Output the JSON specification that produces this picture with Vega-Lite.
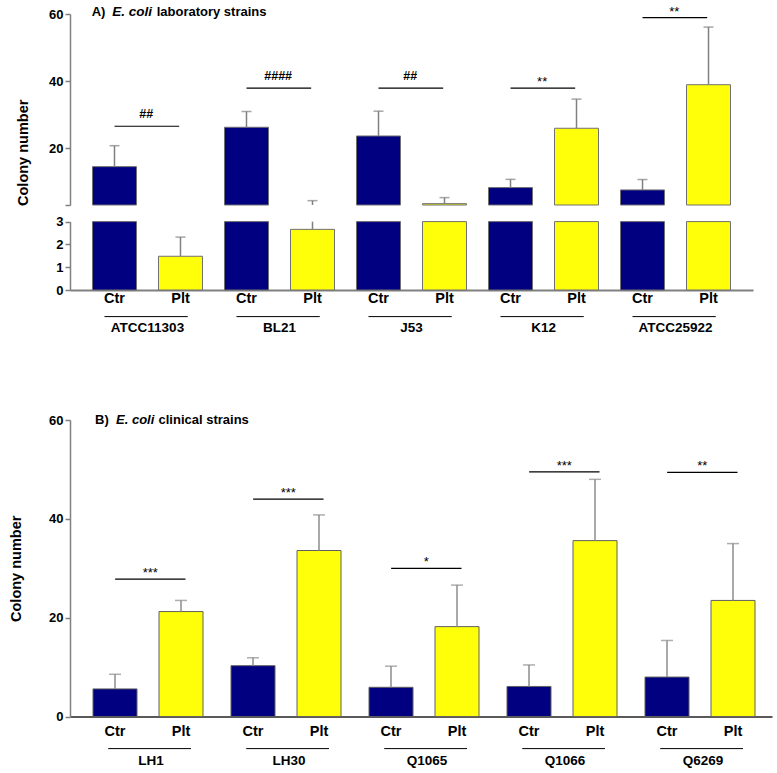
{
  "$schema": "https://vega.github.io/schema/vega-lite/v6.json",
  "padding": {"left": 8, "top": 4, "right": 5, "bottom": 5},
  "background": "white",
  "spacing": 130,
  "bounds": "flush",
  "config": {
    "font": "Liberation Sans",
    "view": {"stroke": null},
    "axis": {"grid": false, "labelFont": "Liberation Sans", "titleFont": "Liberation Sans", "labelFontWeight": "bold", "titleFontWeight": "bold", "labelColor": "black", "titleColor": "black"},
    "text": {"font": "Liberation Sans"}
  },
  "datasets": {
    "bars": [
      {"panel": "A", "strain": "ATCC11303", "group": "Ctr", "mean": 14.45, "upper": 20.7},
      {"panel": "A", "strain": "ATCC11303", "group": "Plt", "mean": 1.48, "upper": 2.32},
      {"panel": "A", "strain": "BL21", "group": "Ctr", "mean": 26.2, "upper": 30.9},
      {"panel": "A", "strain": "BL21", "group": "Plt", "mean": 2.66, "upper": 4.3},
      {"panel": "A", "strain": "J53", "group": "Ctr", "mean": 23.6, "upper": 31.0},
      {"panel": "A", "strain": "J53", "group": "Plt", "mean": 3.4, "upper": 5.2},
      {"panel": "A", "strain": "K12", "group": "Ctr", "mean": 8.2, "upper": 10.65},
      {"panel": "A", "strain": "K12", "group": "Plt", "mean": 25.9, "upper": 34.6},
      {"panel": "A", "strain": "ATCC25922", "group": "Ctr", "mean": 7.5, "upper": 10.6},
      {"panel": "A", "strain": "ATCC25922", "group": "Plt", "mean": 38.9, "upper": 56.1},
      {"panel": "B", "strain": "LH1", "group": "Ctr", "mean": 5.6, "upper": 8.56},
      {"panel": "B", "strain": "LH1", "group": "Plt", "mean": 21.25, "upper": 23.5},
      {"panel": "B", "strain": "LH30", "group": "Ctr", "mean": 10.3, "upper": 11.9},
      {"panel": "B", "strain": "LH30", "group": "Plt", "mean": 33.6, "upper": 40.8},
      {"panel": "B", "strain": "Q1065", "group": "Ctr", "mean": 5.93, "upper": 10.2},
      {"panel": "B", "strain": "Q1065", "group": "Plt", "mean": 18.2, "upper": 26.6},
      {"panel": "B", "strain": "Q1066", "group": "Ctr", "mean": 6.1, "upper": 10.45},
      {"panel": "B", "strain": "Q1066", "group": "Plt", "mean": 35.6, "upper": 48.0},
      {"panel": "B", "strain": "Q6269", "group": "Ctr", "mean": 8.0, "upper": 15.4},
      {"panel": "B", "strain": "Q6269", "group": "Plt", "mean": 23.5, "upper": 35.0}
    ],
    "sig": [
      {"panel": "A", "strain": "ATCC11303", "label": "##", "bracket": 26.5},
      {"panel": "A", "strain": "BL21", "label": "####", "bracket": 37.9},
      {"panel": "A", "strain": "J53", "label": "##", "bracket": 37.9},
      {"panel": "A", "strain": "K12", "label": "**", "bracket": 37.9},
      {"panel": "A", "strain": "ATCC25922", "label": "**", "bracket": 58.9},
      {"panel": "B", "strain": "LH1", "label": "***", "bracket": 27.8},
      {"panel": "B", "strain": "LH30", "label": "***", "bracket": 44.0},
      {"panel": "B", "strain": "Q1065", "label": "*", "bracket": 30.0},
      {"panel": "B", "strain": "Q1066", "label": "***", "bracket": 49.5},
      {"panel": "B", "strain": "Q6269", "label": "**", "bracket": 49.4}
    ],
    "titles": [
      {"panel": "A", "part": "a", "text": "A)"},
      {"panel": "A", "part": "b", "text": "E. coli"},
      {"panel": "A", "part": "c", "text": "laboratory strains"},
      {"panel": "B", "part": "a", "text": "B)"},
      {"panel": "B", "part": "b", "text": "E. coli"},
      {"panel": "B", "part": "c", "text": "clinical strains"}
    ]
  },
  "vconcat": [
    {
      "width": 683,
      "height": 276,
      "resolve": {"scale": {"y": "independent"}, "axis": {"y": "independent"}},
      "layer": [
        {
          "layer": [
            {
              "data": {"name": "bars"},
              "transform": [{"filter": "datum.panel == 'A' && datum.mean > 3"}],
              "mark": {"type": "bar", "stroke": "#707070", "strokeWidth": 1},
              "encoding": {
                "x": {"field": "strain", "type": "nominal", "title": null, "scale": {"domain": ["ATCC11303", "BL21", "J53", "K12", "ATCC25922"], "paddingInner": 0, "paddingOuter": 0.087, "align": 0.5}},
                "xOffset": {"field": "group", "type": "nominal", "scale": {"domain": ["Ctr", "Plt"], "paddingInner": 0.3333, "paddingOuter": 0.1667}},
                "y": {"field": "mean", "type": "quantitative", "scale": {"domain": [3, 60], "range": [191, 0], "nice": false, "zero": false, "clamp": true},
                  "axis": {"orient": "left", "values": [3, 20, 40, 60], "labelExpr": "datum.value == 3 ? '' : datum.label", "title": "Colony number", "titleY": 138.3, "titleFontSize": 14.5, "titlePadding": 18, "labelFontSize": 13, "labelPadding": 2, "tickSize": 5, "tickColor": "#808080", "tickWidth": 1.5, "domainColor": "#808080", "domainWidth": 1.5}},
                "y2": {"datum": 3},
                "color": {"field": "group", "type": "nominal", "scale": {"domain": ["Ctr", "Plt"], "range": ["#000080", "#ffff0a"]}, "legend": null}
              }
            },
            {
              "data": {"name": "bars"},
              "transform": [{"filter": "datum.panel == 'A' && datum.upper > 3"}],
              "mark": {"type": "rule", "color": "#808080", "strokeWidth": 1.5},
              "encoding": {
                "x": {"field": "strain", "type": "nominal", "scale": {"domain": ["ATCC11303", "BL21", "J53", "K12", "ATCC25922"], "paddingInner": 0, "paddingOuter": 0.087, "align": 0.5}},
                "xOffset": {"field": "group", "type": "nominal", "scale": {"domain": ["Ctr", "Plt"], "paddingInner": 0.3333, "paddingOuter": 0.1667}},
                "y": {"field": "mean", "type": "quantitative", "scale": {"domain": [3, 60], "range": [191, 0], "nice": false, "zero": false, "clamp": true}},
                "y2": {"field": "upper"}
              }
            },
            {
              "data": {"name": "bars"},
              "transform": [{"filter": "datum.panel == 'A' && datum.upper > 3"}],
              "mark": {"type": "tick", "orient": "horizontal", "size": 10, "thickness": 1.5, "color": "#808080"},
              "encoding": {
                "x": {"field": "strain", "type": "nominal", "scale": {"domain": ["ATCC11303", "BL21", "J53", "K12", "ATCC25922"], "paddingInner": 0, "paddingOuter": 0.087, "align": 0.5}},
                "xOffset": {"field": "group", "type": "nominal", "scale": {"domain": ["Ctr", "Plt"], "paddingInner": 0.3333, "paddingOuter": 0.1667}},
                "y": {"field": "upper", "type": "quantitative", "scale": {"domain": [3, 60], "range": [191, 0], "nice": false, "zero": false, "clamp": true}}
              }
            },
            {
              "data": {"name": "sig"},
              "transform": [{"filter": "datum.panel == 'A'"}],
              "mark": {"type": "rule", "color": "black", "strokeWidth": 1.2},
              "encoding": {
                "x": {"field": "strain", "type": "nominal", "bandPosition": 0.25, "scale": {"domain": ["ATCC11303", "BL21", "J53", "K12", "ATCC25922"], "paddingInner": 0, "paddingOuter": 0.087, "align": 0.5}},
                "x2": {"field": "strain", "bandPosition": 0.74},
                "y": {"field": "bracket", "type": "quantitative", "scale": {"domain": [3, 60], "range": [191, 0], "nice": false, "zero": false, "clamp": true}}
              }
            },
            {
              "data": {"name": "sig"},
              "transform": [{"filter": "datum.panel == 'A' && indexof(datum.label, '#') >= 0"}],
              "mark": {"type": "text", "baseline": "alphabetic", "dy": -8, "fontSize": 12.5, "fontWeight": "bold", "color": "black"},
              "encoding": {
                "x": {"field": "strain", "type": "nominal", "bandPosition": 0.49, "scale": {"domain": ["ATCC11303", "BL21", "J53", "K12", "ATCC25922"], "paddingInner": 0, "paddingOuter": 0.087, "align": 0.5}},
                "y": {"field": "bracket", "type": "quantitative", "scale": {"domain": [3, 60], "range": [191, 0], "nice": false, "zero": false, "clamp": true}},
                "text": {"field": "label"}
              }
            },
            {
              "data": {"name": "sig"},
              "transform": [{"filter": "datum.panel == 'A' && indexof(datum.label, '*') >= 0"}],
              "mark": {"type": "text", "baseline": "alphabetic", "dy": -2, "fontSize": 13, "color": "black"},
              "encoding": {
                "x": {"field": "strain", "type": "nominal", "bandPosition": 0.49, "scale": {"domain": ["ATCC11303", "BL21", "J53", "K12", "ATCC25922"], "paddingInner": 0, "paddingOuter": 0.087, "align": 0.5}},
                "y": {"field": "bracket", "type": "quantitative", "scale": {"domain": [3, 60], "range": [191, 0], "nice": false, "zero": false, "clamp": true}},
                "text": {"field": "label"}
              }
            },
            {
              "data": {"name": "titles"},
              "transform": [{"filter": "datum.panel == 'A' && datum.part == 'a'"}],
              "mark": {"type": "text", "align": "left", "baseline": "middle", "dx": 10.2, "dy": -2.4, "fontSize": 13, "fontWeight": "bold", "color": "black"},
              "encoding": {
                "x": {"datum": "ATCC11303", "type": "nominal", "bandPosition": 0, "scale": {"domain": ["ATCC11303", "BL21", "J53", "K12", "ATCC25922"], "paddingInner": 0, "paddingOuter": 0.087, "align": 0.5}},
                "y": {"datum": 60, "type": "quantitative", "scale": {"domain": [3, 60], "range": [191, 0], "nice": false, "zero": false, "clamp": true}},
                "text": {"field": "text"}
              }
            },
            {
              "data": {"name": "titles"},
              "transform": [{"filter": "datum.panel == 'A' && datum.part == 'b'"}],
              "mark": {"type": "text", "align": "left", "baseline": "middle", "dx": 30.8, "dy": -2.4, "fontSize": 13.5, "fontWeight": "bold", "fontStyle": "italic", "color": "black"},
              "encoding": {
                "x": {"datum": "ATCC11303", "type": "nominal", "bandPosition": 0, "scale": {"domain": ["ATCC11303", "BL21", "J53", "K12", "ATCC25922"], "paddingInner": 0, "paddingOuter": 0.087, "align": 0.5}},
                "y": {"datum": 60, "type": "quantitative", "scale": {"domain": [3, 60], "range": [191, 0], "nice": false, "zero": false, "clamp": true}},
                "text": {"field": "text"}
              }
            },
            {
              "data": {"name": "titles"},
              "transform": [{"filter": "datum.panel == 'A' && datum.part == 'c'"}],
              "mark": {"type": "text", "align": "left", "baseline": "middle", "dx": 75.2, "dy": -2.4, "fontSize": 13, "fontWeight": "bold", "color": "black"},
              "encoding": {
                "x": {"datum": "ATCC11303", "type": "nominal", "bandPosition": 0, "scale": {"domain": ["ATCC11303", "BL21", "J53", "K12", "ATCC25922"], "paddingInner": 0, "paddingOuter": 0.087, "align": 0.5}},
                "y": {"datum": 60, "type": "quantitative", "scale": {"domain": [3, 60], "range": [191, 0], "nice": false, "zero": false, "clamp": true}},
                "text": {"field": "text"}
              }
            }
          ]
        },
        {
          "layer": [
            {
              "data": {"name": "bars"},
              "transform": [{"filter": "datum.panel == 'A'"}],
              "mark": {"type": "bar", "stroke": "#707070", "strokeWidth": 1},
              "encoding": {
                "x": {"field": "strain", "type": "nominal", "title": null, "scale": {"domain": ["ATCC11303", "BL21", "J53", "K12", "ATCC25922"], "paddingInner": 0, "paddingOuter": 0.087, "align": 0.5},
                  "axis": {"orient": "bottom", "title": null, "ticks": false, "labelAngle": 0, "labelAlign": "center", "labelFontSize": 13.5, "labelPadding": 37.6, "labelBaseline": "middle", "domainColor": "#808080", "domainWidth": 2}},
                "xOffset": {"field": "group", "type": "nominal", "scale": {"domain": ["Ctr", "Plt"], "paddingInner": 0.3333, "paddingOuter": 0.1667}},
                "y": {"field": "mean", "type": "quantitative", "scale": {"domain": [0, 3], "range": [276, 207.6], "nice": false, "clamp": true},
                  "axis": {"orient": "left", "values": [0, 1, 2, 3], "format": "d", "title": null, "labelFontSize": 13, "labelPadding": 2, "tickSize": 5, "tickColor": "#808080", "tickWidth": 1.5, "domainColor": "#808080", "domainWidth": 1.5}},
                "y2": {"datum": 0},
                "color": {"field": "group", "type": "nominal", "scale": {"domain": ["Ctr", "Plt"], "range": ["#000080", "#ffff0a"]}, "legend": null}
              }
            },
            {
              "data": {"name": "bars"},
              "transform": [{"filter": "datum.panel == 'A'"}],
              "mark": {"type": "rule", "color": "#808080", "strokeWidth": 1.5},
              "encoding": {
                "x": {"field": "strain", "type": "nominal", "scale": {"domain": ["ATCC11303", "BL21", "J53", "K12", "ATCC25922"], "paddingInner": 0, "paddingOuter": 0.087, "align": 0.5}},
                "xOffset": {"field": "group", "type": "nominal", "scale": {"domain": ["Ctr", "Plt"], "paddingInner": 0.3333, "paddingOuter": 0.1667}},
                "y": {"field": "mean", "type": "quantitative", "scale": {"domain": [0, 3], "range": [276, 207.6], "nice": false, "clamp": true}},
                "y2": {"field": "upper"}
              }
            },
            {
              "data": {"name": "bars"},
              "transform": [{"filter": "datum.panel == 'A' && datum.upper <= 3"}],
              "mark": {"type": "tick", "orient": "horizontal", "size": 10, "thickness": 1.5, "color": "#808080"},
              "encoding": {
                "x": {"field": "strain", "type": "nominal", "scale": {"domain": ["ATCC11303", "BL21", "J53", "K12", "ATCC25922"], "paddingInner": 0, "paddingOuter": 0.087, "align": 0.5}},
                "xOffset": {"field": "group", "type": "nominal", "scale": {"domain": ["Ctr", "Plt"], "paddingInner": 0.3333, "paddingOuter": 0.1667}},
                "y": {"field": "upper", "type": "quantitative", "scale": {"domain": [0, 3], "range": [276, 207.6], "nice": false, "clamp": true}}
              }
            },
            {
              "data": {"name": "bars"},
              "transform": [{"filter": "datum.panel == 'A'"}],
              "mark": {"type": "text", "baseline": "middle", "dy": 9.3, "fontSize": 14.5, "fontWeight": "bold", "color": "black"},
              "encoding": {
                "x": {"field": "strain", "type": "nominal", "scale": {"domain": ["ATCC11303", "BL21", "J53", "K12", "ATCC25922"], "paddingInner": 0, "paddingOuter": 0.087, "align": 0.5}},
                "xOffset": {"field": "group", "type": "nominal", "scale": {"domain": ["Ctr", "Plt"], "paddingInner": 0.3333, "paddingOuter": 0.1667}},
                "y": {"datum": 0, "type": "quantitative", "scale": {"domain": [0, 3], "range": [276, 207.6], "nice": false, "clamp": true}},
                "text": {"field": "group"}
              }
            },
            {
              "data": {"name": "bars"},
              "transform": [{"filter": "datum.panel == 'A' && datum.group == 'Ctr'"}],
              "mark": {"type": "rule", "color": "black", "strokeWidth": 1, "yOffset": 26.6},
              "encoding": {
                "x": {"field": "strain", "type": "nominal", "bandPosition": 0.174, "scale": {"domain": ["ATCC11303", "BL21", "J53", "K12", "ATCC25922"], "paddingInner": 0, "paddingOuter": 0.087, "align": 0.5}},
                "x2": {"field": "strain", "bandPosition": 0.805},
                "y": {"datum": 0, "type": "quantitative", "scale": {"domain": [0, 3], "range": [276, 207.6], "nice": false, "clamp": true}}
              }
            }
          ]
        }
      ]
    },
    {
      "width": 702,
      "height": 296.6,
      "layer": [
        {
          "data": {"name": "bars"},
          "transform": [{"filter": "datum.panel == 'B'"}],
          "mark": {"type": "bar", "stroke": "#606060", "strokeWidth": 1},
          "encoding": {
            "x": {"field": "strain", "type": "nominal", "title": null, "scale": {"domain": ["LH1", "LH30", "Q1065", "Q1066", "Q6269"], "paddingInner": 0, "paddingOuter": 0.0435, "align": 1},
              "axis": {"orient": "bottom", "title": null, "ticks": false, "labelAngle": 0, "labelAlign": "center", "labelFontSize": 13.5, "labelPadding": 43.4, "labelBaseline": "middle", "domainColor": "#222222", "domainWidth": 1.5}},
            "xOffset": {"field": "group", "type": "nominal", "scale": {"domain": ["Ctr", "Plt"], "paddingInner": 0.3333, "paddingOuter": 0.1667}},
            "y": {"field": "mean", "type": "quantitative", "scale": {"domain": [0, 60], "nice": false},
              "axis": {"orient": "left", "values": [0, 20, 40, 60], "title": "Colony number", "titleFontSize": 14.5, "titlePadding": 25, "labelFontSize": 13, "labelPadding": 2, "tickSize": 5, "tickColor": "#808080", "tickWidth": 1.5, "domainColor": "#808080", "domainWidth": 1.5}},
            "y2": {"datum": 0},
            "color": {"field": "group", "type": "nominal", "scale": {"domain": ["Ctr", "Plt"], "range": ["#000080", "#ffff0a"]}, "legend": null}
          }
        },
        {
          "data": {"name": "bars"},
          "transform": [{"filter": "datum.panel == 'B'"}],
          "mark": {"type": "rule", "color": "#8c8c8c", "strokeWidth": 1.5},
          "encoding": {
            "x": {"field": "strain", "type": "nominal", "scale": {"domain": ["LH1", "LH30", "Q1065", "Q1066", "Q6269"], "paddingInner": 0, "paddingOuter": 0.0435, "align": 1}},
            "xOffset": {"field": "group", "type": "nominal", "scale": {"domain": ["Ctr", "Plt"], "paddingInner": 0.3333, "paddingOuter": 0.1667}},
            "y": {"field": "mean", "type": "quantitative", "scale": {"domain": [0, 60], "nice": false}},
            "y2": {"field": "upper"}
          }
        },
        {
          "data": {"name": "bars"},
          "transform": [{"filter": "datum.panel == 'B'"}],
          "mark": {"type": "tick", "orient": "horizontal", "size": 12, "thickness": 1.5, "color": "#8c8c8c"},
          "encoding": {
            "x": {"field": "strain", "type": "nominal", "scale": {"domain": ["LH1", "LH30", "Q1065", "Q1066", "Q6269"], "paddingInner": 0, "paddingOuter": 0.0435, "align": 1}},
            "xOffset": {"field": "group", "type": "nominal", "scale": {"domain": ["Ctr", "Plt"], "paddingInner": 0.3333, "paddingOuter": 0.1667}},
            "y": {"field": "upper", "type": "quantitative", "scale": {"domain": [0, 60], "nice": false}}
          }
        },
        {
          "data": {"name": "sig"},
          "transform": [{"filter": "datum.panel == 'B'"}],
          "mark": {"type": "rule", "color": "black", "strokeWidth": 1.2},
          "encoding": {
            "x": {"field": "strain", "type": "nominal", "bandPosition": 0.24, "scale": {"domain": ["LH1", "LH30", "Q1065", "Q1066", "Q6269"], "paddingInner": 0, "paddingOuter": 0.0435, "align": 1}},
            "x2": {"field": "strain", "bandPosition": 0.75},
            "y": {"field": "bracket", "type": "quantitative", "scale": {"domain": [0, 60], "nice": false}}
          }
        },
        {
          "data": {"name": "sig"},
          "transform": [{"filter": "datum.panel == 'B'"}],
          "mark": {"type": "text", "baseline": "alphabetic", "dy": -2, "fontSize": 13, "color": "black"},
          "encoding": {
            "x": {"field": "strain", "type": "nominal", "bandPosition": 0.495, "scale": {"domain": ["LH1", "LH30", "Q1065", "Q1066", "Q6269"], "paddingInner": 0, "paddingOuter": 0.0435, "align": 1}},
            "y": {"field": "bracket", "type": "quantitative", "scale": {"domain": [0, 60], "nice": false}},
            "text": {"field": "label"}
          }
        },
        {
          "data": {"name": "titles"},
          "transform": [{"filter": "datum.panel == 'B' && datum.part == 'a'"}],
          "mark": {"type": "text", "align": "left", "baseline": "middle", "dx": 13, "fontSize": 13, "fontWeight": "bold", "color": "black"},
          "encoding": {
            "x": {"datum": "LH1", "type": "nominal", "bandPosition": 0, "scale": {"domain": ["LH1", "LH30", "Q1065", "Q1066", "Q6269"], "paddingInner": 0, "paddingOuter": 0.0435, "align": 1}},
            "y": {"datum": 60, "type": "quantitative", "scale": {"domain": [0, 60], "nice": false}},
            "text": {"field": "text"}
          }
        },
        {
          "data": {"name": "titles"},
          "transform": [{"filter": "datum.panel == 'B' && datum.part == 'b'"}],
          "mark": {"type": "text", "align": "left", "baseline": "middle", "dx": 34, "fontSize": 13, "fontWeight": "bold", "fontStyle": "italic", "color": "black"},
          "encoding": {
            "x": {"datum": "LH1", "type": "nominal", "bandPosition": 0, "scale": {"domain": ["LH1", "LH30", "Q1065", "Q1066", "Q6269"], "paddingInner": 0, "paddingOuter": 0.0435, "align": 1}},
            "y": {"datum": 60, "type": "quantitative", "scale": {"domain": [0, 60], "nice": false}},
            "text": {"field": "text"}
          }
        },
        {
          "data": {"name": "titles"},
          "transform": [{"filter": "datum.panel == 'B' && datum.part == 'c'"}],
          "mark": {"type": "text", "align": "left", "baseline": "middle", "dx": 76.5, "fontSize": 13, "fontWeight": "bold", "color": "black"},
          "encoding": {
            "x": {"datum": "LH1", "type": "nominal", "bandPosition": 0, "scale": {"domain": ["LH1", "LH30", "Q1065", "Q1066", "Q6269"], "paddingInner": 0, "paddingOuter": 0.0435, "align": 1}},
            "y": {"datum": 60, "type": "quantitative", "scale": {"domain": [0, 60], "nice": false}},
            "text": {"field": "text"}
          }
        },
        {
          "data": {"name": "bars"},
          "transform": [{"filter": "datum.panel == 'B'"}],
          "mark": {"type": "text", "baseline": "middle", "dy": 15.7, "fontSize": 14.5, "fontWeight": "bold", "color": "black"},
          "encoding": {
            "x": {"field": "strain", "type": "nominal", "scale": {"domain": ["LH1", "LH30", "Q1065", "Q1066", "Q6269"], "paddingInner": 0, "paddingOuter": 0.0435, "align": 1}},
            "xOffset": {"field": "group", "type": "nominal", "scale": {"domain": ["Ctr", "Plt"], "paddingInner": 0.3333, "paddingOuter": 0.1667}},
            "y": {"datum": 0, "type": "quantitative", "scale": {"domain": [0, 60], "nice": false}},
            "text": {"field": "group"}
          }
        },
        {
          "data": {"name": "bars"},
          "transform": [{"filter": "datum.panel == 'B' && datum.group == 'Ctr'"}],
          "mark": {"type": "rule", "color": "black", "strokeWidth": 1, "yOffset": 32},
          "encoding": {
            "x": {"field": "strain", "type": "nominal", "bandPosition": 0.19, "scale": {"domain": ["LH1", "LH30", "Q1065", "Q1066", "Q6269"], "paddingInner": 0, "paddingOuter": 0.0435, "align": 1}},
            "x2": {"field": "strain", "bandPosition": 0.79},
            "y": {"datum": 0, "type": "quantitative", "scale": {"domain": [0, 60], "nice": false}}
          }
        }
      ]
    }
  ]
}
